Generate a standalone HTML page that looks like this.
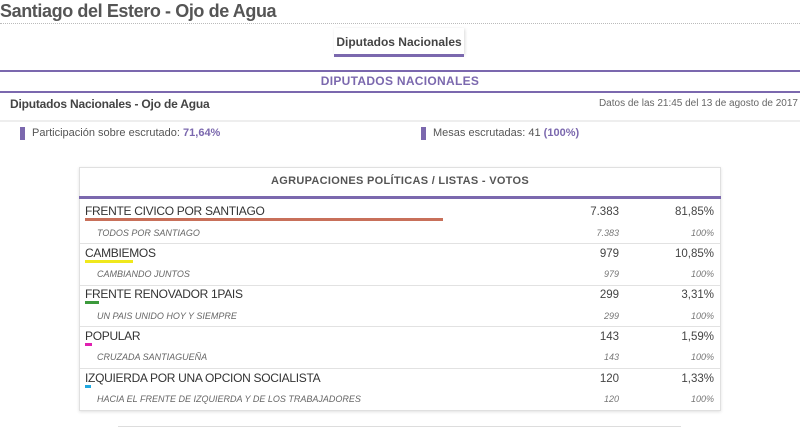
<!DOCTYPE html>
<html><head><meta charset="utf-8"><style>
*{margin:0;padding:0;box-sizing:border-box}
body{width:800px;height:428px;background:#fff;font-family:"Liberation Sans",sans-serif;position:relative;overflow:hidden;color:#555}
.a{position:absolute;white-space:nowrap}
.r{text-align:right}
.pn{font-size:12px;color:#333;letter-spacing:-0.3px}
.ln{font-size:9px;font-style:italic;color:#666}
.v{font-size:11.5px;color:#444}
.sv{font-size:9px;font-style:italic;color:#777}
.bar{position:absolute;height:3px}
.hl{position:absolute;left:80px;width:640px;height:1px;background:#e2e2e2}
</style></head><body>
<div class="a" style="left:0;top:1px;font-size:18px;font-weight:bold;color:#555;letter-spacing:-0.4px">Santiago del Estero - Ojo de Agua</div>
<div class="a" style="left:0;top:23px;width:800px;border-top:1px dotted #bbb"></div>
<div class="a" style="left:334px;top:28px;width:130px;height:26px;box-shadow:1px 1px 3px rgba(0,0,0,0.15)"></div>
<div class="a" style="left:334px;top:35px;width:130px;text-align:center;font-size:12px;font-weight:bold;color:#444">Diputados Nacionales</div>
<div class="a" style="left:334px;top:54px;width:130px;height:3px;background:#7b68ae"></div>
<div class="a" style="left:0;top:70px;width:800px;height:2px;background:#7b68ae"></div>
<div class="a" style="left:0;top:74px;width:800px;text-align:center;font-size:12px;font-weight:bold;color:#7b68ae;letter-spacing:0.3px">DIPUTADOS NACIONALES</div>
<div class="a" style="left:0;top:91px;width:800px;height:2px;background:#7b68ae"></div>
<div class="a" style="left:10px;top:97px;font-size:12px;font-weight:bold;color:#444;letter-spacing:-0.2px">Diputados Nacionales - Ojo de Agua</div>
<div class="a r" style="right:2px;top:98px;font-size:10px;color:#666">Datos de las 21:45 del 13 de agosto de 2017</div>
<div class="a" style="left:0;top:120px;width:800px;height:2px;background:#eee"></div>
<div class="a" style="left:20px;top:127px;width:5px;height:13px;background:#7b68ae"></div>
<div class="a" style="left:32px;top:127px;font-size:11px;color:#555">Participación sobre escrutado: <b style="color:#7b68ae">71,64%</b></div>
<div class="a" style="left:421px;top:127px;width:5px;height:13px;background:#7b68ae"></div>
<div class="a" style="left:433px;top:127px;font-size:11px;color:#555">Mesas escrutadas: 41 <b style="color:#7b68ae">(100%)</b></div>

<div class="a" style="left:79px;top:167px;width:642px;height:244px;border:1px solid #e0e0e0;box-shadow:0 1px 3px rgba(0,0,0,0.12)"></div>
<div class="a" style="left:79px;top:175px;width:642px;text-align:center;font-size:11px;font-weight:bold;color:#555;letter-spacing:0.3px">AGRUPACIONES POLÍTICAS / LISTAS - VOTOS</div>
<div class="a" style="left:79px;top:196px;width:642px;height:3px;background:#7b68ae"></div>

<div class="a pn" style="left:85px;top:204px">FRENTE CIVICO POR SANTIAGO</div>
<div class="bar" style="left:85px;top:218px;width:358px;background:#c8705a"></div>
<div class="a v r" style="right:181px;top:206px">7.383</div>
<div class="a v r" style="right:86px;top:206px">81,85%</div>
<div class="a ln" style="left:97px;top:228px">TODOS POR SANTIAGO</div>
<div class="a sv r" style="right:181px;top:228px">7.383</div>
<div class="a sv r" style="right:86px;top:228px">100%</div>
<div class="hl" style="top:243px"></div>

<div class="a pn" style="left:85px;top:246px">CAMBIEMOS</div>
<div class="bar" style="left:85px;top:260px;width:48px;background:#f0e81c"></div>
<div class="a v r" style="right:181px;top:248px">979</div>
<div class="a v r" style="right:86px;top:248px">10,85%</div>
<div class="a ln" style="left:97px;top:269px">CAMBIANDO JUNTOS</div>
<div class="a sv r" style="right:181px;top:269px">979</div>
<div class="a sv r" style="right:86px;top:269px">100%</div>
<div class="hl" style="top:285px"></div>

<div class="a pn" style="left:85px;top:287px">FRENTE RENOVADOR 1PAIS</div>
<div class="bar" style="left:85px;top:301px;width:14px;background:#3c9a3c"></div>
<div class="a v r" style="right:181px;top:289px">299</div>
<div class="a v r" style="right:86px;top:289px">3,31%</div>
<div class="a ln" style="left:97px;top:311px">UN PAIS UNIDO HOY Y SIEMPRE</div>
<div class="a sv r" style="right:181px;top:311px">299</div>
<div class="a sv r" style="right:86px;top:311px">100%</div>
<div class="hl" style="top:326px"></div>

<div class="a pn" style="left:85px;top:329px">POPULAR</div>
<div class="bar" style="left:85px;top:343px;width:7px;background:#e020b0"></div>
<div class="a v r" style="right:181px;top:331px">143</div>
<div class="a v r" style="right:86px;top:331px">1,59%</div>
<div class="a ln" style="left:97px;top:352px">CRUZADA SANTIAGUEÑA</div>
<div class="a sv r" style="right:181px;top:352px">143</div>
<div class="a sv r" style="right:86px;top:352px">100%</div>
<div class="hl" style="top:368px"></div>

<div class="a pn" style="left:85px;top:371px">IZQUIERDA POR UNA OPCION SOCIALISTA</div>
<div class="bar" style="left:85px;top:385px;width:6px;background:#20a8e0"></div>
<div class="a v r" style="right:181px;top:373px">120</div>
<div class="a v r" style="right:86px;top:373px">1,33%</div>
<div class="a ln" style="left:97px;top:394px">HACIA EL FRENTE DE IZQUIERDA Y DE LOS TRABAJADORES</div>
<div class="a sv r" style="right:181px;top:394px">120</div>
<div class="a sv r" style="right:86px;top:394px">100%</div>

<div class="a" style="left:118px;top:426px;width:563px;height:2px;border-top:1px solid #ddd"></div>
</body></html>
